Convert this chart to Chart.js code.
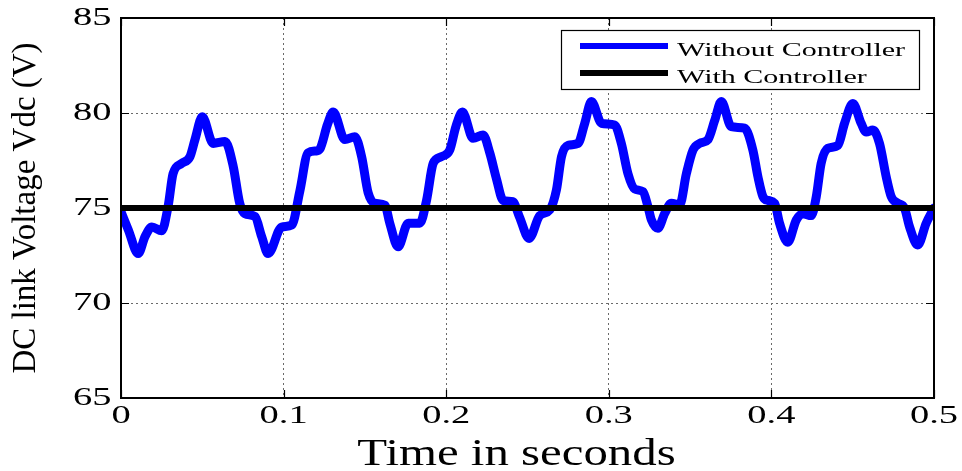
<!DOCTYPE html>
<html><head><meta charset="utf-8">
<script src="https://cdn.jsdelivr.net/npm/chart.js@4.4.1/dist/chart.umd.min.js"></script>
<style>html,body{margin:0;padding:0;background:#fff;}canvas{display:block;}</style>
</head><body>
<canvas id="c" width="962" height="471"></canvas>
<script>
// ---- data ----
const timeWithout = [
  0.000, 0.0045, 0.0106, 0.0148, 0.0190, 0.0250, 0.0290, 0.0320, 0.0373, 0.0424, 0.0455, 0.0500,
  0.0567, 0.0640, 0.0690, 0.0730, 0.0762, 0.0824, 0.0865, 0.0905, 0.0988, 0.1050, 0.1100, 0.1150,
  0.1200, 0.1223, 0.1270, 0.1305, 0.1377, 0.1438, 0.1480, 0.1520, 0.1560, 0.1623, 0.1653, 0.1704,
  0.1766, 0.1838, 0.1879, 0.1920, 0.1970, 0.2022, 0.2060, 0.2100, 0.2165, 0.2227, 0.2268, 0.2310,
  0.2350, 0.2410, 0.2450, 0.2510, 0.2575, 0.2637, 0.2678, 0.2709, 0.2750, 0.2811, 0.2852, 0.2893,
  0.2955, 0.3036, 0.3077, 0.3118, 0.3159, 0.3210, 0.3241, 0.3262, 0.3302, 0.3344, 0.3385, 0.3436,
  0.3477, 0.3518, 0.3559, 0.3610, 0.3651, 0.3692, 0.3753, 0.3835, 0.3886, 0.3917, 0.3948, 0.3978,
  0.4020, 0.4050, 0.4101, 0.4153, 0.4194, 0.4245, 0.4276, 0.4306, 0.4347, 0.4409, 0.4450, 0.4501,
  0.4552, 0.4583, 0.4624, 0.4665, 0.4706, 0.4737, 0.4778, 0.4819, 0.4850, 0.4900, 0.4952, 0.5000
];
const voltageWithout = [
  74.8, 73.85, 72.6, 73.5, 74.0, 73.8, 75.1, 76.8, 77.35, 77.7, 78.6, 79.8,
  78.4, 78.5, 77.2, 75.25, 74.7, 74.55, 73.5, 72.6, 74.0, 74.1, 75.9, 77.9,
  78.0, 78.1, 79.4, 80.05, 78.6, 78.75, 77.7, 75.8, 75.25, 75.15, 74.2, 72.96,
  74.2, 74.2, 75.4, 77.35, 77.7, 78.05, 79.3, 80.05, 78.67, 78.84, 77.9, 76.5,
  75.4, 75.33, 74.54, 73.4, 74.6, 74.9, 75.95, 77.7, 78.3, 78.4, 79.46, 80.6,
  79.46, 79.37, 78.4, 76.8, 76.0, 75.86, 75.07, 74.37, 73.93, 74.72, 75.25, 75.16,
  76.8, 78.05, 78.4, 78.6, 79.6, 80.6, 79.28, 79.2, 78.05, 76.65, 75.6, 75.4,
  75.25, 74.2, 73.2, 74.37, 74.7, 74.6, 75.6, 77.35, 78.14, 78.3, 79.46, 80.5,
  79.46, 79.0, 79.1, 78.4, 76.65, 75.6, 75.25, 74.98, 74.0, 73.05, 74.2, 75.0
];
const timeWith = [0, 0.5];
const voltageWith = [75, 75];
const seriesLabels = ['Without Controller', 'With Controller'];
const xTickValues = [0, 0.1, 0.2, 0.3, 0.4, 0.5];
const xTickLabels = ['0', '0.1', '0.2', '0.3', '0.4', '0.5'];
const yTickValues = [65, 70, 75, 80, 85];
const yTickLabels = ['65', '70', '75', '80', '85'];
const xTitle = 'Time in seconds';
const yTitle = 'DC link Voltage Vdc (V)';

// ---- horizontal text stretch (reference glyphs are widened) ----
const canvas = document.getElementById('c');
const ctx = canvas.getContext('2d');
// font size -> [horizontal stretch, x shift]
const STRETCH = {'26': [1.48, 0], '37': [1.32, -11], '19': [1.58, 0]};
const origFill = ctx.fillText.bind(ctx);
ctx.fillText = function (text, x, y, maxW) {
  const m = /(\d+(?:\.\d+)?)px/.exec(this.font);
  const s = m ? STRETCH[m[1]] : undefined;
  if (!s) { return maxW === undefined ? origFill(text, x, y) : origFill(text, x, y, maxW); }
  this.save();
  this.translate(x + s[1], y);
  this.scale(s[0], 1);
  if (maxW === undefined) origFill(text, 0, 0); else origFill(text, 0, 0, maxW / s[0]);
  this.restore();
};

const FAMILY = '"Liberation Serif", "Times New Roman", serif';

const framePlugin = {
  id: 'frame',
  afterDraw(chart) {
    const {ctx, chartArea: a, scales: {x, y}} = chart;
    ctx.save();
    ctx.strokeStyle = '#000';
    ctx.setLineDash([]);
    ctx.lineWidth = 1.2;
    ctx.beginPath();
    const tl = 8;
    xTickValues.forEach(v => {
      const px = Math.round(x.getPixelForValue(v)) + 0.5;
      ctx.moveTo(px, a.bottom); ctx.lineTo(px, a.bottom - tl);
      ctx.moveTo(px, a.top); ctx.lineTo(px, a.top + tl);
    });
    yTickValues.forEach(v => {
      const py = Math.round(y.getPixelForValue(v)) + 0.5;
      ctx.moveTo(a.left, py); ctx.lineTo(a.left + tl, py);
      ctx.moveTo(a.right, py); ctx.lineTo(a.right - tl, py);
    });
    ctx.stroke();
    ctx.lineWidth = 2;
    ctx.strokeRect(a.left, a.top, a.right - a.left, a.bottom - a.top);

    // legend box
    const bx = 561, by = 30, bw = 358, bh = 59;
    ctx.fillStyle = '#fff';
    ctx.fillRect(bx, by, bw, bh);
    ctx.lineWidth = 1.2;
    ctx.strokeRect(bx + 0.5, by + 0.5, bw, bh);
    const rows = [46, 73];
    chart.data.datasets.forEach((ds, i) => {
      ctx.strokeStyle = ds.borderColor;
      ctx.lineWidth = 6;
      ctx.lineCap = 'butt';
      ctx.beginPath();
      ctx.moveTo(580, rows[i]); ctx.lineTo(668, rows[i]);
      ctx.stroke();
      ctx.fillStyle = '#000';
      ctx.font = '19px ' + FAMILY;
      ctx.textAlign = 'left';
      ctx.textBaseline = 'alphabetic';
      ctx.fillText(ds.label, 677, rows[i] + 9.5);
    });
    ctx.restore();
  }
};

const noPad = s => { s.paddingTop = 0; s.paddingBottom = 0; s.paddingLeft = 0; s.paddingRight = 0; };

new Chart(ctx, {
  type: 'line',
  data: {
    datasets: [
      {
        label: seriesLabels[0],
        data: timeWithout.map((t, i) => ({x: t, y: voltageWithout[i]})),
        borderColor: '#0000ff',
        borderWidth: 9,
        pointRadius: 0,
        cubicInterpolationMode: 'monotone',
        borderJoinStyle: 'round',
        borderCapStyle: 'round',
        fill: false,
        order: 1
      },
      {
        label: seriesLabels[1],
        data: timeWith.map((t, i) => ({x: t, y: voltageWith[i]})),
        borderColor: '#000000',
        borderWidth: 6,
        pointRadius: 0,
        fill: false,
        order: 0
      }
    ]
  },
  options: {
    responsive: false,
    devicePixelRatio: 1,
    animation: false,
    layout: {padding: {left: 0, top: 18, right: 28, bottom: 0}},
    plugins: {legend: {display: false}, tooltip: {enabled: false}},
    scales: {
      x: {
        type: 'linear', min: 0, max: 0.5,
        afterBuildTicks: s => { s.ticks = xTickValues.map(v => ({value: v})); },
        afterFit: s => { s.height = 73; noPad(s); },
        ticks: {
          callback: (v, i) => xTickLabels[i],
          color: '#000', padding: 3, maxRotation: 0, autoSkip: false,
          font: {family: FAMILY, size: 26, lineHeight: 1.2}
        },
        grid: {color: '#6a6a6a', lineWidth: 1, drawTicks: false},
        border: {display: false, dash: [2, 3]},
        title: {
          display: true, text: xTitle, color: '#000',
          font: {family: FAMILY, size: 37, lineHeight: 0.9},
          padding: {top: 0, bottom: -1}
        }
      },
      y: {
        type: 'linear', min: 65, max: 85,
        afterBuildTicks: s => { s.ticks = yTickValues.map(v => ({value: v})); },
        afterFit: s => { s.width = 121; noPad(s); },
        ticks: {
          callback: (v, i) => yTickLabels[i],
          color: '#000', padding: 9.5, autoSkip: false,
          font: {family: FAMILY, size: 26, lineHeight: 1.2}
        },
        grid: {color: '#6a6a6a', lineWidth: 1, drawTicks: false},
        border: {display: false, dash: [2, 3]},
        title: {
          display: true, text: yTitle, color: '#000',
          font: {family: FAMILY, size: 33, lineHeight: 1},
          padding: {top: 9.5, bottom: 0}
        }
      }
    }
  },
  plugins: [framePlugin]
});
</script>
</body></html>
